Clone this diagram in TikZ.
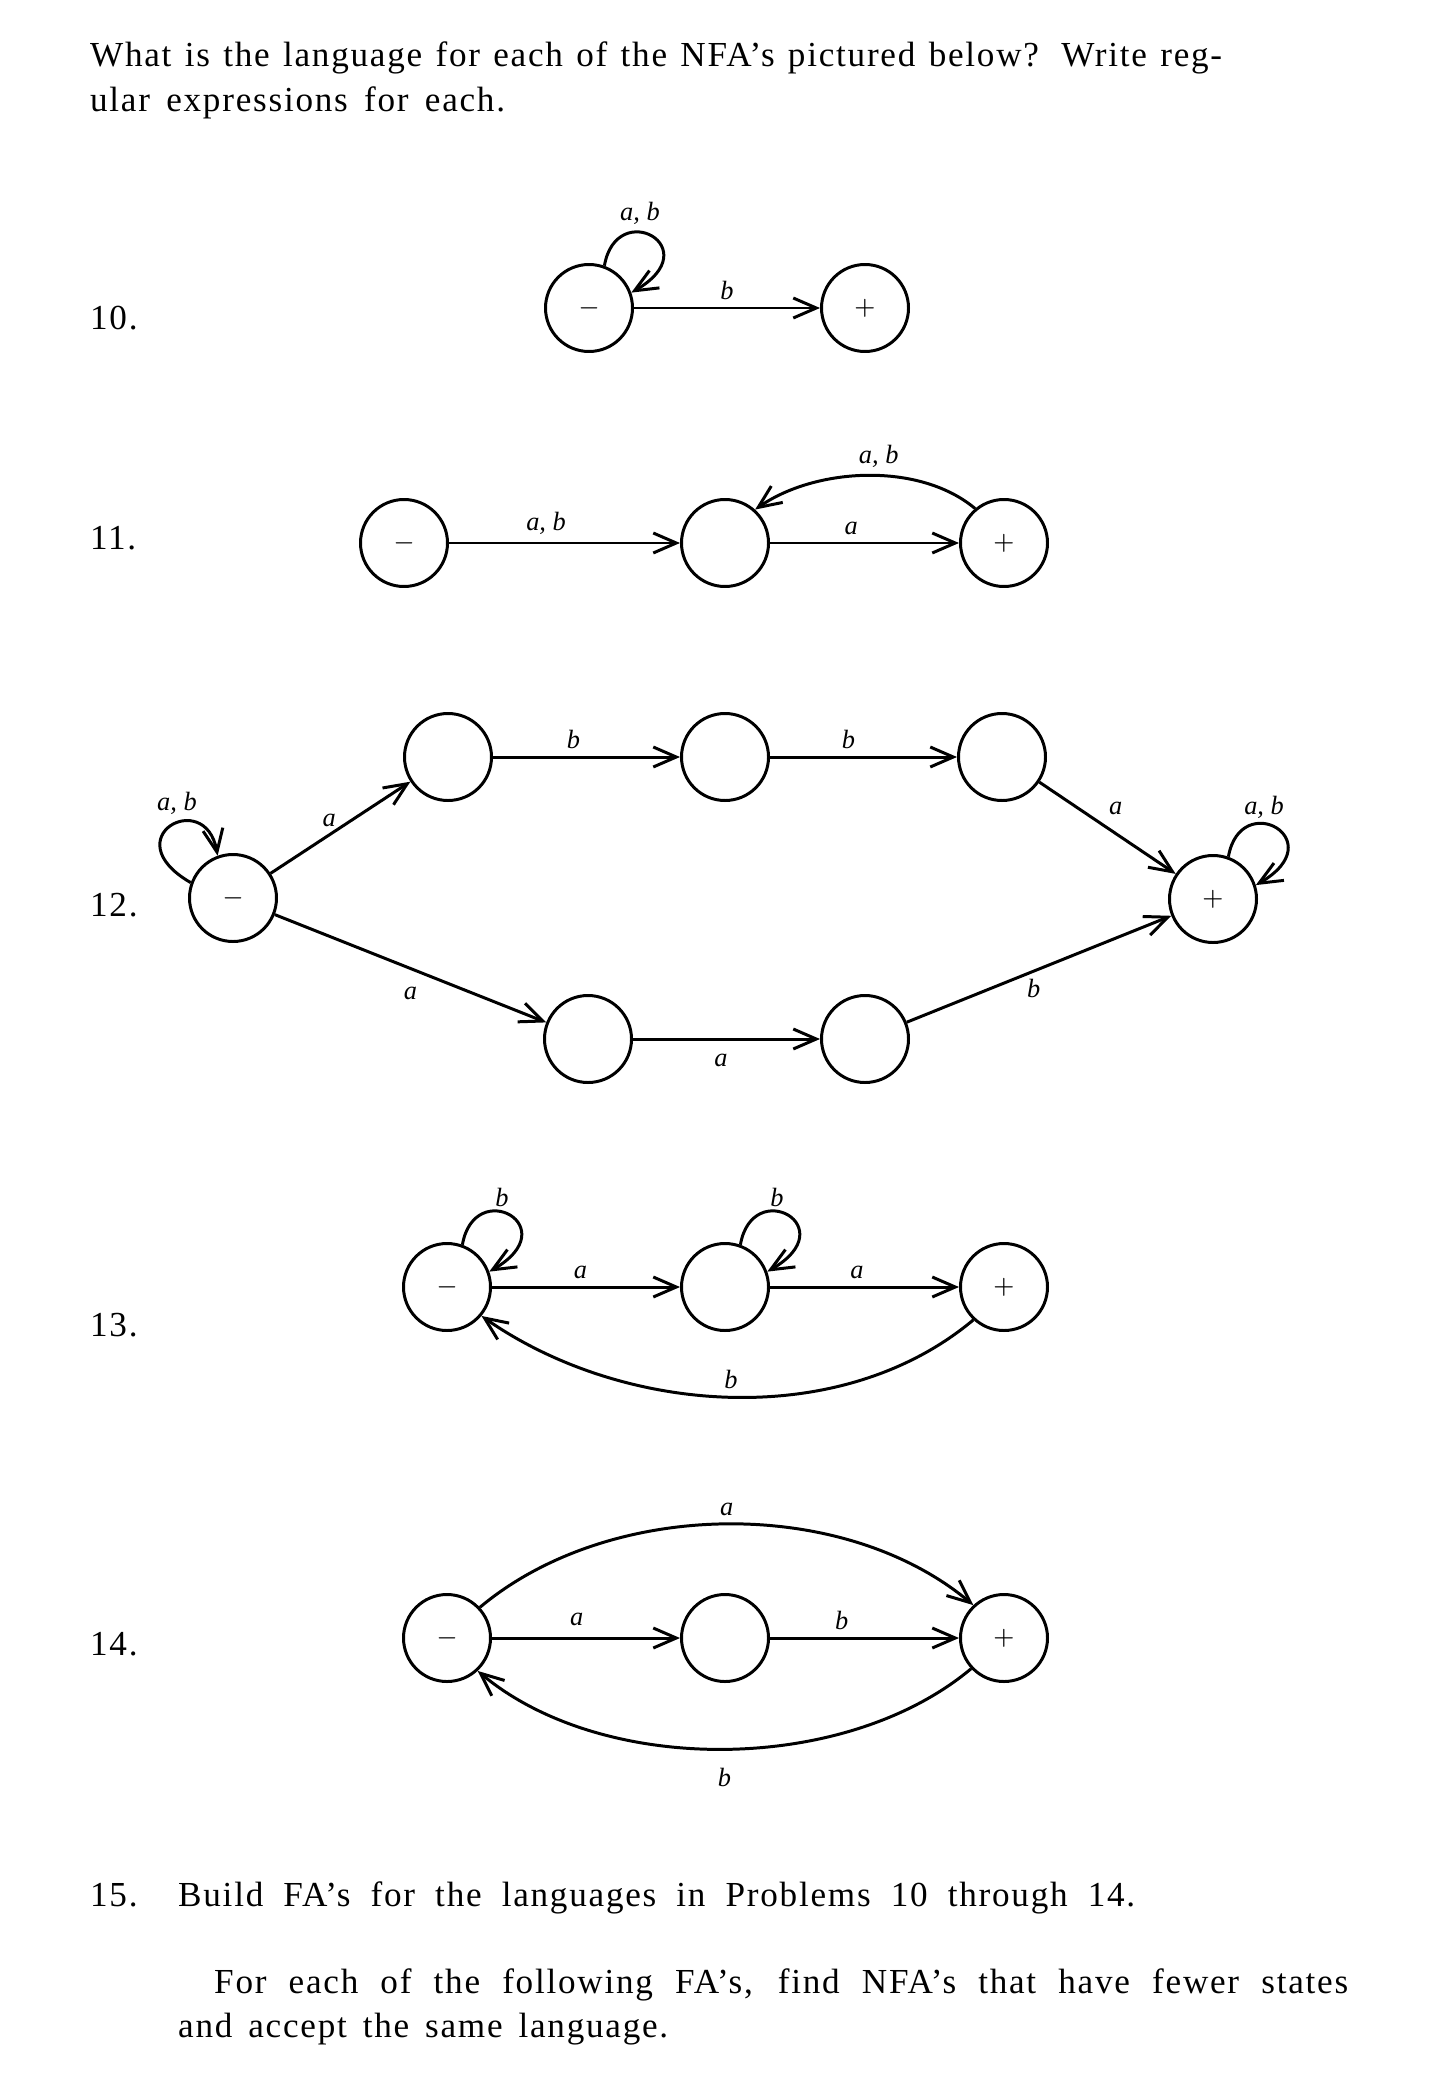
\documentclass[tikz,border=0pt]{standalone}
\usepackage{fontspec}
\setmainfont{Liberation Serif}
\newfontfamily\bodyfont[LetterSpace=5]{Liberation Serif}
\usetikzlibrary{arrows.meta}
\begin{document}
\begin{tikzpicture}[state/.style = {circle, draw, line width = 0.85pt, minimum size = 0.87cm, inner sep = 0pt, font = \fontsize{7}{8}\selectfont},
	tr/.style = {line width = 0.85pt, -{Straight Barb[length = 2.3mm, width = 2mm]}},
	lab/.style = {font = \fontsize{7.5}{9}\selectfont\itshape, inner sep = 2pt},
	txt/.style = {anchor = base west, inner sep = 0pt, font = \bodyfont\fontsize{10}{12}\selectfont}]
	\useasboundingbox (0,0) rectangle (14.52,-20.93);
	% question text
	\node[txt] (hd1) at (0.894,-0.667) {\makebox[11.32cm][s]{What is the language for each of the NFA’s pictured below? Write reg-}};
	\node[txt] (hd2) at (0.894,-1.12) {\makebox[4.15cm][s]{ular expressions for each.}};
	\node[txt] (n10) at (0.894,-3.295) {10.};
	\node[txt] (n11) at (0.894,-5.495) {11.};
	\node[txt] (n12) at (0.894,-9.165) {12.};
	\node[txt] (n13) at (0.894,-13.365) {13.};
	\node[txt] (n14) at (0.894,-16.555) {14.};
	% 10.
	\node[state] (d10s) at (5.89,-3.08) {$-$};
	\node[state] (d10f) at (8.65,-3.08) {$+$};
	\draw[tr] (d10s.70) .. controls +(80:0.7) and +(30:0.9) .. (d10s.20);
	\node[lab] at (6.40,-2.13) {a, b};
	\draw[tr] (d10s) -- (d10f) node [lab, midway, above] {b};
	% 11.
	\node[state] (d11s) at (4.04,-5.43) {$-$};
	\node[state] (d11m) at (7.25,-5.43) {};
	\node[state] (d11f) at (10.04,-5.43) {$+$};
	\draw[tr] (d11s) -- (d11m) node [lab, pos = 0.42, above] {a, b};
	\draw[tr] (d11m) -- (d11f) node [lab, pos = 0.43, above] {a};
	\draw[tr] (d11f.130) to[out = 140, in = 35, looseness = 0.85] node [lab, pos = 0.45, above] {a, b} (d11m.48);
	% 12.
	\node[state] (d12s) at (2.33,-8.98) {$-$};
	\node[state] (d12u1) at (4.48,-7.57) {};
	\node[state] (d12u2) at (7.25,-7.57) {};
	\node[state] (d12u3) at (10.02,-7.57) {};
	\node[state] (d12l1) at (5.88,-10.39) {};
	\node[state] (d12l2) at (8.65,-10.39) {};
	\node[state] (d12f) at (12.13,-8.99) {$+$};
	\draw[tr] (d12s.160) .. controls +(150:0.9) and +(100:0.7) .. (d12s.110);
	\node[lab] at (1.77,-8.03) {a, b};
	\draw[tr] (d12f.70) .. controls +(80:0.7) and +(30:0.9) .. (d12f.18);
	\node[lab] at (12.64,-8.07) {a, b};
	\draw[tr] (d12s) -- (d12u1) node [lab, pos = 0.42, above] {a};
	\draw[tr] (d12s) -- (d12l1) node [lab, midway, below = 3pt] {a};
	\draw[tr] (d12u1) -- (d12u2) node [lab, pos = 0.43, above] {b};
	\draw[tr] (d12u2) -- (d12u3) node [lab, pos = 0.42, above] {b};
	\draw[tr] (d12u3) -- (d12f) node [lab, pos = 0.45, above right] {a};
	\draw[tr] (d12l1) -- (d12l2) node [lab, pos = 0.47, below = 2pt] {a};
	\draw[tr] (d12l2) -- (d12f) node [lab, pos = 0.48, below] {b};
	% 13.
	\node[state] (d13s) at (4.47,-12.87) {$-$};
	\node[state] (d13m) at (7.25,-12.87) {};
	\node[state] (d13f) at (10.04,-12.87) {$+$};
	\draw[tr] (d13s.70) .. controls +(80:0.7) and +(30:0.9) .. (d13s.20);
	\node[lab] at (5.02,-11.97) {b};
	\draw[tr] (d13m.70) .. controls +(80:0.7) and +(30:0.9) .. (d13m.20);
	\node[lab] at (7.77,-11.97) {b};
	\draw[tr] (d13s) -- (d13m) node [lab, pos = 0.47, above] {a};
	\draw[tr] (d13m) -- (d13f) node [lab, pos = 0.46, above] {a};
	\draw[tr] (d13f.227) to[out = -140, in = -35, looseness = 0.9] node [lab, midway, above] {b} (d13s.-40);
	% 14.
	\node[state] (d14s) at (4.47,-16.38) {$-$};
	\node[state] (d14m) at (7.25,-16.38) {};
	\node[state] (d14f) at (10.04,-16.38) {$+$};
	\draw[tr] (d14s) -- (d14m) node [lab, pos = 0.45, above = 1pt] {a};
	\draw[tr] (d14m) -- (d14f) node [lab, pos = 0.38, above] {b};
	\draw[tr] (d14s.43) to[out = 40, in = 140, looseness = 0.88] node [lab, midway, above] {a} (d14f.133);
	\draw[tr] (d14f.223) to[out = -140, in = -40, looseness = 0.85] node [lab, midway, below = 3pt] {b} (d14s.-47);
	% 15.
	\node[txt] (n15) at (0.894,-19.06) {15.};
	\node[txt] (q15) at (1.775,-19.06) {\makebox[9.57cm][s]{Build FA’s for the languages in Problems 10 through 14.}};
	\node[txt] (ft1) at (2.135,-19.93) {\makebox[11.34cm][s]{For each of the following FA’s, find NFA’s that have fewer states}};
	\node[txt] (ft2) at (1.775,-20.37) {\makebox[4.90cm][s]{and accept the same language.}};
\end{tikzpicture}
\end{document}
